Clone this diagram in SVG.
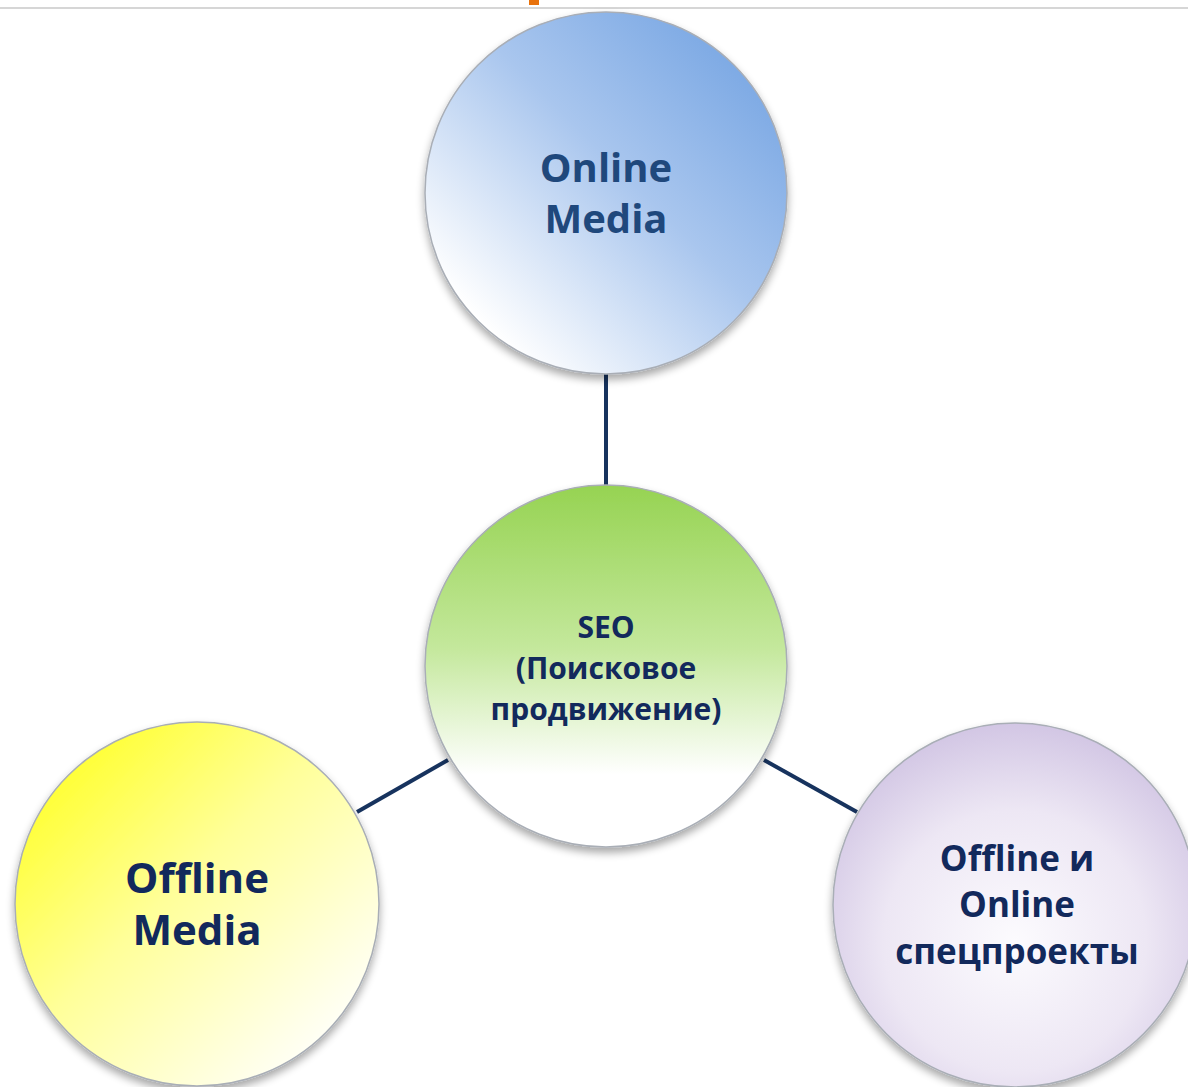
<svg xmlns="http://www.w3.org/2000/svg" width="1188" height="1087" viewBox="0 0 1188 1087">
<style>
.lbl{font-family:"Open Sans","Noto Sans","Liberation Sans",sans-serif;font-weight:700;text-anchor:middle;fill:#12295C}
.node circle{stroke:#A9AEB6;stroke-width:1.5}
.conn line{stroke:#17335E;stroke-width:4;stroke-linecap:butt}
</style>
<defs>
<linearGradient id="gBlue" x1="1" y1="0" x2="0" y2="1">
<stop offset="0" stop-color="#6A9DE0"/>
<stop offset="0.45" stop-color="#A9C6EE"/>
<stop offset="0.85" stop-color="#FFFFFF"/>
</linearGradient>
<linearGradient id="gGreen" x1="0" y1="0" x2="0" y2="1">
<stop offset="0" stop-color="#96D352"/>
<stop offset="0.45" stop-color="#C4E89C"/>
<stop offset="0.8" stop-color="#FFFFFF"/>
</linearGradient>
<linearGradient id="gYellow" x1="0" y1="0" x2="1" y2="1">
<stop offset="0.1" stop-color="#FFFF2A"/>
<stop offset="0.45" stop-color="#FFFF99"/>
<stop offset="0.9" stop-color="#FFFFFF"/>
</linearGradient>
<radialGradient id="gPurple" cx="0.5" cy="0.6" r="0.6">
<stop offset="0" stop-color="#FCFBFE"/>
<stop offset="0.6" stop-color="#EDE7F4"/>
<stop offset="1" stop-color="#D2C6E4"/>
</radialGradient>
<filter id="sh" x="-20%" y="-20%" width="140%" height="140%">
<feGaussianBlur in="SourceAlpha" stdDeviation="4"/>
<feOffset dx="0" dy="5" result="b"/>
<feComponentTransfer><feFuncA type="linear" slope="0.35"/></feComponentTransfer>
<feMerge><feMergeNode/><feMergeNode in="SourceGraphic"/></feMerge>
</filter>
</defs>
<rect width="1188" height="1087" fill="#FFFFFF"/>
<line x1="0" y1="8" x2="1188" y2="8" stroke="#C8C8C8" stroke-width="1.5"/>
<rect x="529" y="0" width="10" height="5" fill="#E8720C"/>
<g class="conn" id="connectors">
<line x1="606" y1="374" x2="606" y2="488"/>
<line x1="448" y1="760" x2="357" y2="812"/>
<line x1="764" y1="760" x2="857" y2="812"/>
</g>
<g class="node" id="online-media">
<circle cx="606" cy="193" r="181" fill="url(#gBlue)" filter="url(#sh)"/>
<text class="lbl" x="606" y="182" font-size="40" style="fill:#1F487C">Online</text>
<text class="lbl" x="606" y="233" font-size="40" style="fill:#1F487C">Media</text>
</g>
<g class="node" id="seo">
<circle cx="606" cy="666" r="181" fill="url(#gGreen)" filter="url(#sh)"/>
<text class="lbl" x="606" y="638" font-size="30">SEO</text>
<text class="lbl" x="606" y="679" font-size="30">(Поисковое</text>
<text class="lbl" x="606" y="720" font-size="30">продвижение)</text>
</g>
<g class="node" id="offline-media">
<circle cx="197" cy="904" r="182" fill="url(#gYellow)" filter="url(#sh)"/>
<text class="lbl" x="197" y="893" font-size="42">Offline</text>
<text class="lbl" x="197" y="945" font-size="42">Media</text>
</g>
<g class="node" id="special-projects">
<circle cx="1015" cy="905" r="182" fill="url(#gPurple)" filter="url(#sh)"/>
<text class="lbl" x="1017" y="871" font-size="35">Offline и</text>
<text class="lbl" x="1017" y="917" font-size="35">Online</text>
<text class="lbl" x="1017" y="964" font-size="35">спецпроекты</text>
</g>
</svg>
